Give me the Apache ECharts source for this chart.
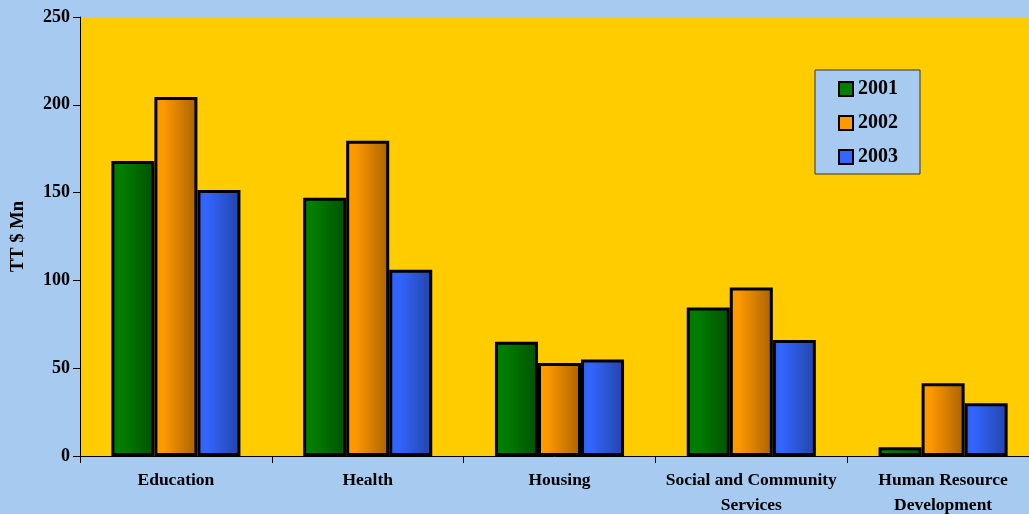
<!DOCTYPE html>
<html><head><meta charset="utf-8">
<script src="https://cdn.jsdelivr.net/npm/echarts@6/dist/echarts.min.js"></script>
<style>html,body{margin:0;padding:0;background:#A6CAF0;}#c{width:1029px;height:514px;}</style>
</head><body><div id="c"></div>
<script>
const categories = ['Education','Health','Housing','Social and Community\nServices','Human Resource\nDevelopment'];
const years = ['2001','2002','2003'];
const v2001 = [168, 147, 65, 84.5, 5];
const v2002 = [204.5, 179.5, 53, 96, 41.5];
const v2003 = [151.5, 106, 55, 66, 30];
const yTicks = [0, 50, 100, 150, 200, 250];

const baseColors = ['#007F00', '#FF9900', '#3366FF'];
const gradients = [
  ['#007A00', '#007F00', '#005200'],
  ['#FF9900', '#FF9900', '#A86200'],
  ['#2F5FF0', '#3366FF', '#2244A8']
];
function grad(c){
  return {type:'linear', x:0, y:0, x2:1, y2:0, colorStops:[
    {offset:0, color:c[0]}, {offset:0.2, color:c[1]}, {offset:1, color:c[2]}]};
}
const values = [v2001, v2002, v2003];
const font = 'Liberation Serif';
const chart = echarts.init(document.getElementById('c'));
chart.setOption({
  backgroundColor:'#A6CAF0',
  animation:false,
  grid:{left:80, right:-10, top:17, bottom:58, show:true, backgroundColor:'#FFCC00', borderWidth:0,
        containLabel:false, outerBoundsMode:'none'},
  legend:{
    orient:'vertical', left:815, top:70,
    backgroundColor:'#A6CAF0', borderColor:'#333', borderWidth:1,
    padding:[9, 22, 7, 23], itemGap:14, itemWidth:14, itemHeight:14,
    icon:'rect',
    textStyle:{fontFamily:font, fontWeight:'bold', fontSize:20, color:'#000'},
    data: years.map((y,i)=>({name:y, itemStyle:{color:baseColors[i], borderColor:'#000', borderWidth:2}}))
  },
  xAxis:{
    type:'category', data:categories,
    axisLine:{lineStyle:{color:'#000', width:1}},
    axisTick:{show:true, length:7, lineStyle:{color:'#000'}},
    axisLabel:{fontFamily:font, fontWeight:'bold', fontSize:17.5, color:'#000', margin:12, lineHeight:25, interval:0}
  },
  yAxis:{
    type:'value', min:0, max:250, interval:50,
    name:'TT $ Mn', nameLocation:'middle', nameGap:52, nameRotate:90,
    nameTextStyle:{fontFamily:font, fontWeight:'bold', fontSize:18.5, color:'#000'},
    axisLine:{show:true, lineStyle:{color:'#000', width:1}},
    axisTick:{show:true, length:7, lineStyle:{color:'#000'}},
    splitLine:{show:false},
    axisLabel:{fontFamily:font, fontWeight:'bold', fontSize:18, color:'#000', margin:10,
      formatter:v=>yTicks.includes(v)?String(v):''}
  },
  series: years.map((y,i)=>({
    name:y, type:'bar', data:values[i],
    barGap:'0%', barCategoryGap:'32.7%',
    itemStyle:{color:grad(gradients[i]), borderColor:'#000', borderWidth:3},
    emphasis:{disabled:true}
  }))
});
</script></body></html>
